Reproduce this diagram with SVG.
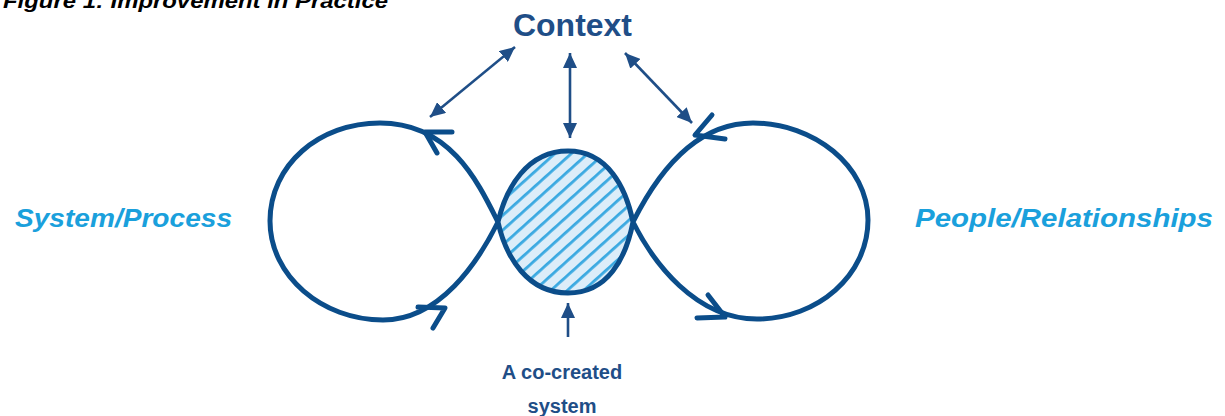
<svg xmlns="http://www.w3.org/2000/svg" width="1225" height="416" viewBox="0 0 1225 416">
  <style>
    .title { font-family: "Liberation Sans", Arial, sans-serif; font-weight: bold; font-style: italic; fill: #000; }
    .dark { font-family: "Liberation Sans", Arial, sans-serif; font-weight: bold; fill: #1f4e87; }
    .side { font-family: "Liberation Sans", Arial, sans-serif; font-weight: bold; font-style: italic; fill: #1aa0dc; }
    .loop { fill: none; stroke: #0b4d8a; stroke-width: 5; stroke-linecap: round; stroke-linejoin: round; }
    .link { fill: none; stroke: #1f4e87; stroke-width: 2.6; }
  </style>
  <defs>
    <marker id="head" viewBox="0 0 15 14" refX="15" refY="7" markerWidth="15" markerHeight="14" markerUnits="userSpaceOnUse" orient="auto-start-reverse">
      <path d="M0,0 L15,7 L0,14 Z" fill="#1f4e87"/>
    </marker>
    <pattern id="hatch" width="11" height="11" patternUnits="userSpaceOnUse" patternTransform="rotate(-42)">
      <rect width="11" height="11" fill="#dcedf9"/>
      <rect y="0" width="11" height="2.8" fill="#3aa9e1"/>
    </pattern>
  </defs>

  <g id="title">
    <text class="title" x="3" y="8" font-size="20" textLength="385" lengthAdjust="spacingAndGlyphs">Figure 1: Improvement in Practice</text>
  </g>

  <g id="context">
    <text class="dark" x="513" y="36" font-size="32" textLength="119" lengthAdjust="spacingAndGlyphs">Context</text>
  </g>

  <g id="system-process">
    <text class="side" x="15" y="227" font-size="26" textLength="217" lengthAdjust="spacingAndGlyphs">System/Process</text>
  </g>

  <g id="people-relationships">
    <text class="side" x="915" y="227" font-size="26" textLength="298" lengthAdjust="spacingAndGlyphs">People/Relationships</text>
  </g>

  <!-- shared area between the two loops -->
  <g id="co-created">
    <path d="M498,222 C506,188 527,151 568,151 C608,151 626,188 633,222 C626,258 608,293 568,293 C528,293 506,258 498,222 Z" fill="url(#hatch)"/>
    <text class="dark" x="562" y="379" font-size="20" text-anchor="middle">A co-created</text>
    <text class="dark" x="562" y="413" font-size="20" text-anchor="middle">system</text>
  </g>

  <!-- the single closed loop: left lobe, central lens, right lobe -->
  <g id="loops">
    <path class="loop" d="M498,222
      C478,182 450,123 380,123
      C319,123 270,165 270,221
      C270,276 322,320 383,320
      C440,320 478,262 498,222
      C506,188 527,151 568,151
      C608,151 626,188 633,222
      C653,262 695,319 757,319
      C818,319 868,275 868,220
      C868,166 814,123 753,123
      C690,123 653,182 633,222
      C626,258 608,293 568,293
      C528,293 506,258 498,222 Z"/>
    <!-- direction chevrons -->
    <path class="loop" d="M452,132 L425,132 L437,153"/>
    <path class="loop" d="M418,307 L445,308 L433,328"/>
    <path class="loop" d="M712,115 L695,135 L725,139"/>
    <path class="loop" d="M697,318 L725,317 L708,295"/>
  </g>

  <g id="connectors">
    <line class="link" x1="430" y1="117" x2="515" y2="47" marker-start="url(#head)" marker-end="url(#head)"/>
    <line class="link" x1="570" y1="53" x2="570" y2="138" marker-start="url(#head)" marker-end="url(#head)"/>
    <line class="link" x1="625" y1="53" x2="692" y2="123" marker-start="url(#head)" marker-end="url(#head)"/>
    <line class="link" x1="568" y1="337" x2="568" y2="303" marker-end="url(#head)"/>
  </g>
</svg>
